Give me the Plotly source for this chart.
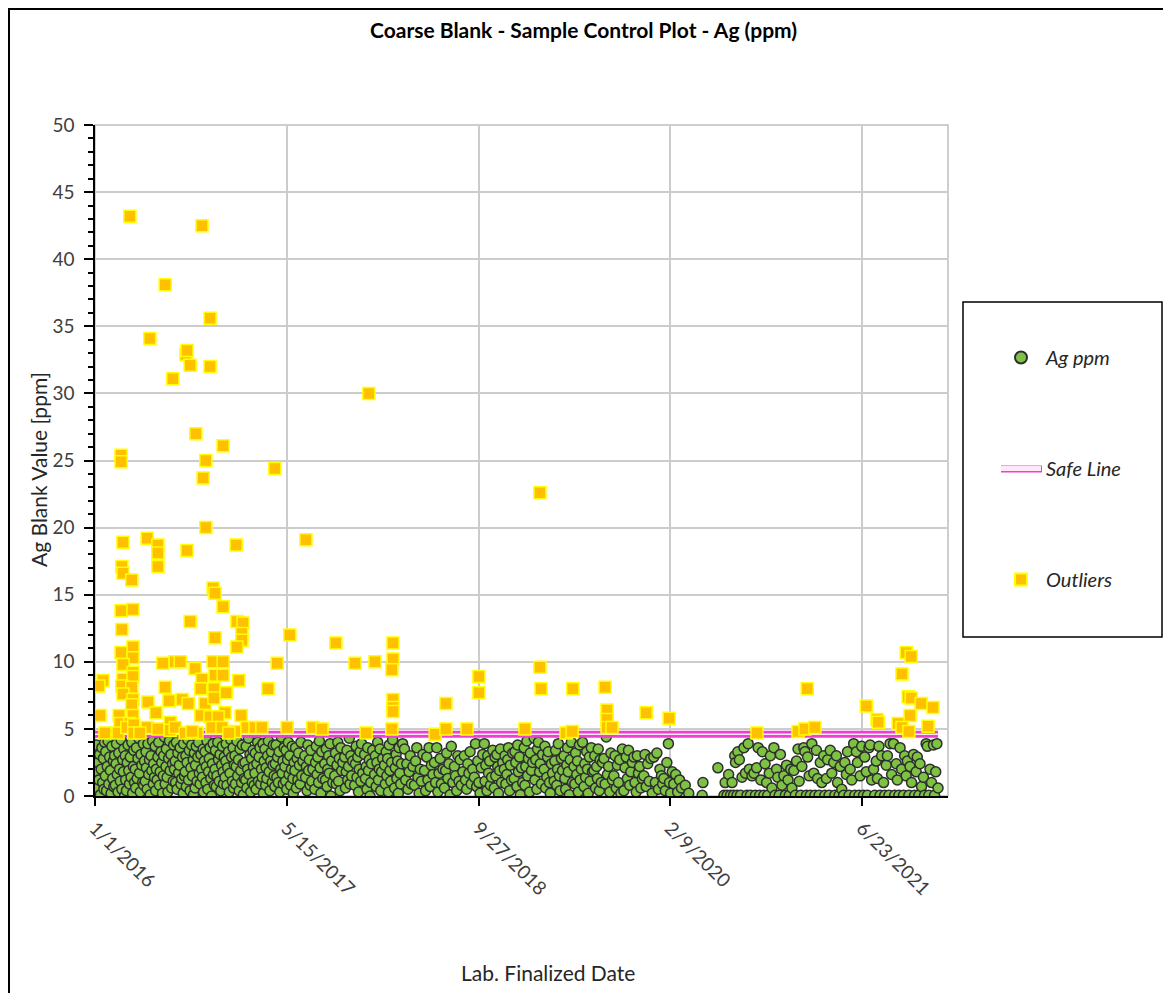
import numpy as np
import pandas as pd
import plotly.graph_objects as go

# ---------------- DATA (dates are Excel serial numbers) ----------------
tick_dates = [42370, 42870, 43370, 43870, 44370]
tick_labels = ["1/1/2016", "5/15/2017", "9/27/2018", "2/9/2020", "6/23/2021"]
x_min, x_max = 42370, 44594

ag_date = [
 42371,42372,42374,42376,42378,42380,42382,42384,42386,42388,42390,42392,42393,42395,
 42397,42398,42400,42402,42404,42406,42408,42410,42412,42414,42416,42418,42419,42421,
 42423,42425,42426,42428,42430,42432,42434,42436,42438,42440,42442,42444,42445,42447,
 42449,42450,42452,42454,42456,42458,42460,42462,42464,42466,42468,42470,42471,42473,
 42475,42476,42478,42480,42482,42484,42486,42488,42490,42492,42494,42496,42497,42499,
 42501,42503,42504,42506,42508,42510,42512,42514,42516,42518,42520,42522,42523,42525,
 42527,42528,42530,42532,42534,42536,42538,42540,42542,42544,42546,42548,42549,42551,
 42553,42555,42556,42558,42560,42562,42564,42566,42568,42570,42572,42574,42575,42577,
 42579,42580,42582,42584,42586,42588,42590,42592,42594,42596,42598,42600,42601,42603,
 42605,42607,42608,42610,42612,42614,42616,42618,42620,42622,42624,42626,42627,42629,
 42631,42632,42634,42636,42638,42640,42642,42644,42646,42648,42650,42652,42653,42655,
 42657,42659,42660,42662,42664,42666,42668,42670,42672,42674,42676,42678,42679,42681,
 42683,42684,42686,42688,42690,42692,42694,42696,42698,42700,42702,42704,42705,42707,
 42709,42711,42712,42714,42716,42718,42720,42722,42724,42726,42728,42730,42731,42733,
 42735,42736,42738,42740,42742,42744,42746,42748,42750,42752,42754,42756,42757,42759,
 42761,42763,42764,42766,42768,42770,42772,42774,42776,42778,42780,42782,42783,42785,
 42787,42788,42790,42792,42794,42796,42798,42800,42802,42804,42806,42808,42809,42811,
 42813,42815,42816,42818,42820,42822,42824,42826,42828,42830,42832,42834,42835,42837,
 42839,42840,42842,42844,42846,42848,42850,42852,42854,42856,42858,42860,42861,42863,
 42865,42867,42868,42870,42872,42874,42876,42878,42880,42882,42884,42886,42887,42889,
 42891,42893,42895,42897,42899,42901,42903,42905,42907,42909,42912,
 42917,42919,42921,42923,42925,42927,42929,42931,42933,42935,42938,
 42943,42945,42947,42949,42951,42953,42955,42957,42959,42961,42964,
 42969,42971,42973,42975,42977,42979,42981,42983,42985,42987,42990,
 42995,42997,42999,43001,43003,43005,43007,43009,43011,43013,43016,
 43021,43023,43025,43027,43029,43031,43033,43035,43037,43039,43042,
 43047,43049,43051,43053,43055,43057,43059,43061,43063,43065,43068,
 43073,43075,43077,43079,43081,43083,43085,43087,43089,43091,43094,
 43099,43101,43103,43105,43107,43109,43111,43113,43115,43117,43120,
 43125,43127,43129,43131,43133,43135,43137,43139,43141,43143,43146,
 43151,43153,43155,43157,43159,43161,43163,43165,43167,43169,43172,
 43177,43180,43183,43186,43189,43192,43195,43199,
 43203,43206,43209,43212,43215,43218,43221,43225,
 43229,43232,43235,43238,43241,43244,43247,43251,
 43255,43258,43261,43264,43267,43270,43273,43277,
 43281,43284,43287,43290,43293,43296,43299,43303,
 43307,43310,43313,43316,43319,43322,43325,43329,
 43333,43336,43339,43342,43345,43348,43351,43355,
 43359,43362,43365,43368,43371,43374,43377,43381,
 43385,43387,43389,43392,43394,43396,43399,43401,43404,43407,
 43411,43413,43415,43418,43420,43422,43425,43427,43430,43433,
 43437,43439,43441,43444,43446,43448,43451,43453,43456,43459,
 43463,43465,43467,43470,43472,43474,43477,43479,43482,43485,
 43489,43491,43493,43496,43498,43500,43503,43505,43508,43511,
 43515,43517,43519,43522,43524,43526,43529,43531,43534,43537,
 43541,43543,43545,43548,43550,43552,43555,43557,43560,43563,
 43567,43569,43571,43574,43576,43578,43581,43583,43586,43589,
 43593,43595,43597,43600,43602,43604,43607,43609,43612,43615,
 43619,43621,43623,43626,43628,43630,43633,43635,43638,43641,
 43645,43647,43649,43652,43654,43656,43659,43661,43664,43667,
 43671,43673,43675,43678,43680,43682,43685,43687,43690,43693,
 43697,43700,43703,43706,43709,43712,43715,43719,
 43723,43726,43729,43732,43735,43738,43741,43745,
 43749,43752,43755,43758,43761,43764,43767,43771,
 43775,43778,43781,43784,43787,43790,43793,43797,
 43801,43804,43807,43811,43815,43819,43823,
 43827,43831,43835,43839,43843,43847,43850,
 43853,43857,43861,43865,43868,43871,43875,
 43879,43884,43889,43894,43899,
 43909,43918,
 43953,43955,43994,
 44010,44013,44018,44022,44027,44031,
 44035,44038,44040,44044,44046,44050,44053,44057,
 44062,44066,44070,44073,44076,44079,44083,
 44088,44092,44095,44099,44103,44106,44110,
 44114,44117,44121,44124,44128,44131,44135,
 44140,44143,44147,44150,44154,44157,44161,
 44166,44170,44173,44177,44180,44184,44187,
 44192,44196,44199,44203,44206,44210,44213,
 44218,44221,44225,44228,44232,44235,44239,
 44244,44247,44251,44254,44258,44261,44265,
 44270,44273,44277,44280,44284,44287,44291,
 44296,44299,44303,44306,44310,44313,44317,
 44322,44325,44329,44332,44336,44339,44343,
 44348,44351,44355,44358,44362,44365,44369,
 44374,44377,44381,44384,44388,44391,44395,
 44400,44403,44407,44410,44414,44417,44421,
 44426,44429,44433,44436,44440,44443,44447,
 44452,44455,44459,44462,44466,44469,44473,
 44478,44481,44485,44488,44492,44495,44499,
 44504,44507,44511,44514,44518,44521,44525,
 44530,44533,44537,44540,44544,44547,44551,
 44556,44559,44562,44565,44568,
]

ag_value = [
 0.1,1.8,3.8,0.6,2.5,1.2,3.1,0.1,2.0,3.6,1.0,2.8,0.5,4.0,
 1.5,3.3,0.4,2.2,4.1,0.9,2.9,1.9,0.2,3.7,1.3,2.6,0.7,3.0,
 0.8,2.4,3.9,1.6,0.3,3.2,2.0,1.1,4.2,0.5,2.7,1.8,3.5,0.0,
 3.0,1.2,0.4,2.5,3.8,1.9,0.9,2.9,1.4,4.0,0.2,2.2,3.4,1.0,
 2.0,0.6,3.6,1.3,2.8,4.3,1.7,0.3,3.1,2.3,1.0,3.9,0.8,2.6,
 1.1,3.3,2.1,0.5,3.9,1.6,2.7,0.1,3.0,1.9,4.1,0.9,2.4,1.4,
 3.7,0.4,2.0,1.2,2.9,4.0,0.8,1.8,3.3,2.5,0.2,1.5,3.0,4.4,
 0.9,2.2,3.5,1.4,0.3,2.8,4.1,1.9,3.1,0.6,2.4,1.1,3.8,2.0,
 2.6,1.0,4.0,0.5,3.2,1.7,2.3,3.6,0.9,1.3,2.9,0.2,3.9,1.5,
 1.8,3.0,0.7,2.5,4.2,1.2,3.4,0.4,2.1,3.8,1.5,2.7,0.1,3.2,
 0.6,2.3,3.7,1.1,2.9,4.0,1.7,0.9,3.1,2.0,1.4,3.5,0.3,2.6,
 3.3,1.0,2.2,4.1,0.5,1.8,2.8,3.6,1.3,0.0,2.4,3.9,1.6,0.8,
 2.0,3.4,0.7,1.5,4.0,2.7,1.1,3.1,0.4,2.3,3.7,1.8,0.9,2.9,
 1.4,2.6,3.9,0.8,2.1,3.3,0.3,1.7,4.2,2.9,1.1,3.6,0.6,2.3,
 3.0,0.9,2.2,4.1,1.5,2.7,0.4,3.5,1.9,1.0,3.8,2.4,0.1,1.3,
 2.5,1.2,3.7,0.6,2.0,4.3,1.6,3.1,0.3,2.8,1.0,3.4,2.2,0.8,
 1.7,3.2,0.5,2.4,4.0,1.1,2.9,3.6,0.9,2.0,1.4,3.9,0.2,2.6,
 3.5,0.8,2.1,1.3,3.0,4.1,1.8,0.4,2.6,3.3,1.0,2.3,3.8,1.5,
 0.7,2.4,3.8,1.4,2.9,1.0,3.3,0.3,2.0,4.4,1.7,2.6,0.9,3.6,
 2.2,1.1,3.4,0.5,2.7,4.0,1.6,3.0,0.8,2.0,3.7,1.3,0.2,2.5,
 1.9,3.6,0.6,2.8,1.2,3.2,2.3,0.9,4.0,1.5,2.6,
 3.0,1.4,2.2,0.4,3.8,1.9,2.7,0.8,3.4,1.1,2.0,
 0.5,2.5,3.7,1.6,2.9,1.0,4.1,2.1,0.2,3.3,1.3,
 2.4,1.2,3.5,0.7,2.0,3.0,1.7,3.9,0.0,2.6,1.0,
 1.5,3.2,0.9,2.3,4.0,1.1,2.8,0.4,3.6,1.9,2.5,
 2.9,0.6,1.8,3.4,1.2,2.2,4.3,0.9,3.0,1.5,2.6,
 0.8,2.4,3.7,1.4,2.9,0.3,2.0,3.3,1.1,3.9,1.7,
 3.1,1.3,2.2,0.5,3.6,1.9,2.7,0.0,1.0,2.4,3.4,
 1.6,3.0,0.7,2.5,4.0,1.2,2.0,3.5,0.4,1.8,2.8,
 2.3,0.9,3.3,1.5,2.8,0.3,3.8,1.9,1.1,2.5,4.2,
 0.6,2.1,3.1,1.3,2.6,0.2,3.6,1.7,0.9,2.4,3.9,
 3.5,1.2,2.4,0.5,1.8,3.0,0.9,2.2,
 0.8,2.6,3.6,1.4,0.2,2.0,1.1,3.1,
 1.9,0.4,2.9,1.2,3.6,0.7,2.3,1.6,
 2.5,1.0,3.6,0.3,1.7,2.8,0.9,2.0,
 0.6,1.9,3.2,1.3,2.4,0.1,3.7,1.0,
 2.2,1.5,0.4,3.0,1.1,2.7,0.8,1.8,
 3.0,1.2,0.5,2.4,1.7,3.3,0.9,2.0,
 1.4,3.9,0.7,2.6,1.0,0.2,2.1,3.1,
 3.9,1.1,2.3,0.4,3.0,1.7,2.6,0.8,1.4,3.4,
 0.6,2.9,1.5,3.1,2.2,0.2,1.9,3.5,1.0,2.5,
 2.0,3.0,0.9,1.6,2.7,3.6,0.4,2.3,1.2,3.2,
 1.3,3.3,2.5,0.7,3.8,1.8,2.9,0.1,2.1,1.0,
 3.6,0.8,2.2,4.1,1.5,2.8,0.3,3.2,1.9,2.5,
 4.3,1.2,2.7,0.5,3.5,4.0,1.8,2.4,0.9,3.1,
 2.0,3.7,0.6,1.4,2.9,3.3,1.0,0.2,2.4,1.7,
 1.1,2.6,3.4,0.8,2.0,3.9,1.5,0.4,2.8,1.9,
 3.0,1.3,0.5,2.3,3.6,1.8,0.1,2.7,4.0,1.0,
 2.2,0.9,3.2,1.6,2.6,0.3,3.8,1.2,2.0,4.0,
 0.7,2.4,1.4,3.3,2.0,0.2,2.9,1.1,3.6,1.8,
 1.9,3.0,0.6,2.2,1.3,3.5,0.4,2.7,1.0,2.5,
 2.8,0.9,4.4,1.6,2.2,0.3,3.2,1.2,
 1.5,3.0,0.6,2.3,1.0,2.7,0.2,3.5,
 0.4,2.1,2.9,1.3,3.4,0.8,1.8,2.5,
 2.9,1.0,0.3,3.0,1.7,2.2,0.6,1.3,
 1.5,3.1,0.7,2.4,1.1,2.8,0.2,
 2.9,1.0,3.2,0.5,2.0,1.5,0.9,
 1.3,0.4,2.5,3.9,1.0,0.2,1.8,
 0.9,1.6,0.3,1.2,0.6,
 0.8,0.2,
 0.05,1.0,2.1,
 0.05,1.0,0.05,1.6,0.05,1.0,
 0.05,3.0,2.5,0.05,3.3,2.7,0.05,1.4,
 3.6,1.7,0.05,3.9,2.0,0.05,1.5,
 1.7,0.05,2.1,3.6,0.05,1.2,3.3,
 0.05,2.4,1.0,0.05,1.7,3.0,0.6,
 3.6,0.05,2.0,1.4,0.05,3.1,0.8,
 1.5,0.05,2.3,1.2,0.05,2.0,0.6,
 1.9,0.05,2.6,3.5,1.1,0.05,2.2,
 3.6,3.3,0.05,2.9,1.5,0.05,3.9,
 1.7,0.05,3.4,1.3,0.05,2.5,1.0,
 3.0,0.05,1.3,2.7,0.05,3.4,1.7,
 2.5,0.05,3.0,1.0,0.05,2.2,0.5,
 0.05,2.5,1.6,3.3,0.05,2.0,1.2,
 3.9,0.05,3.3,2.5,0.05,1.5,3.7,
 0.05,2.9,1.8,0.05,3.6,3.8,1.2,
 2.0,0.05,2.6,1.3,3.7,0.05,3.0,
 1.0,0.05,2.3,3.0,0.05,3.9,1.6,
 3.9,0.05,2.4,1.2,0.05,3.6,2.0,
 0.05,3.0,1.5,2.6,0.05,2.2,1.0,
 3.1,0.05,1.8,2.9,0.05,2.4,0.7,
 1.4,0.05,3.9,3.7,0.05,2.0,1.0,
 3.8,0.05,1.8,3.9,0.6,
]

out_date = [
 42461,42649,42553,42670,42513,42607,42610,42618,42670,42573,
 43084,42633,42704,42659,42438,42438,42839,42652,43530,42659,
 42920,42506,42443,42738,42534,42534,42610,42534,42440,42443,
 42466,42678,42683,42704,42438,42469,42618,42740,42756,42440,
 42753,42753,42683,42878,42998,43147,42740,42469,42438,42469,
 42443,42547,42579,42592,42678,42704,42845,43048,43100,43147,
 43144,42631,42469,43371,43530,44485,44498,44474,42391,42380,
 42443,42469,42649,42683,42704,42745,42440,42466,42553,42646,
 42680,42821,42712,43533,43616,43700,44227,43371,42443,42469,
 42466,42508,42563,42597,42613,42657,42680,43147,43147,43147,
 43285,44490,44498,44524,44555,44381,43705,43705,43705,43718,
 43807,43867,44409,44412,44495,44464,44474,44542,44492,42383,
 42433,42469,42529,42646,42709,42751,42566,42435,42461,42670,
 42691,42506,42534,42566,42579,42430,42453,42605,42636,42675,
 42701,42735,42766,42787,42805,42871,42938,42962,43077,43144,
 43257,43285,43340,43491,43598,43614,44096,44203,44221,44247,
 42471,42471,42396,42487,42623,42719,
]

out_value = [
 43.2,42.5,38.1,35.6,34.1,32.9,33.2,32.1,32.0,31.1,
 30.0,27.0,26.1,25.0,25.4,24.9,24.4,23.7,22.6,20.0,
 19.1,19.2,18.9,18.7,18.7,18.1,18.3,17.1,17.1,16.6,
 16.1,15.5,15.1,14.1,13.8,13.9,13.0,13.0,12.9,12.4,
 12.1,11.6,11.8,12.0,11.4,11.4,11.1,11.1,10.7,10.3,
 9.8,9.9,10.0,10.0,10.0,10.0,9.9,9.9,10.0,10.2,
 9.4,9.5,9.2,8.9,9.6,10.7,10.4,9.1,8.6,8.2,
 8.7,8.9,8.7,9.0,9.0,8.6,8.2,8.1,8.1,8.0,
 8.0,8.0,7.7,8.0,8.0,8.1,8.0,7.7,7.6,7.2,
 6.8,7.0,7.1,7.2,6.9,6.9,7.3,7.2,6.6,6.3,
 6.9,7.4,7.3,6.9,6.6,6.7,6.4,5.7,5.1,5.1,
 6.2,5.8,5.7,5.5,6.0,5.4,5.1,5.2,4.8,6.0,
 6.0,6.0,6.2,6.0,6.2,6.0,5.5,5.4,5.4,5.9,
 5.9,5.1,5.0,4.9,5.1,4.7,5.1,4.7,4.7,5.1,
 5.1,4.8,5.1,5.1,5.1,5.1,5.1,5.0,4.7,5.0,
 4.6,5.0,5.0,5.0,4.7,4.8,4.7,4.8,5.0,5.1,
 5.3,4.7,4.7,4.7,4.8,4.7,
]

safe_date = [42370, 44568]
safe_value = [4.6, 4.6]

# ---------------- helpers ----------------
def to_dt(serials):
    return pd.to_datetime(np.asarray(serials, dtype=float), unit="D", origin="1899-12-30")

OFF = 8                      # page body margin
W, H = 1171 - OFF, 993 - OFF
L, R, T, B = 95, 948, 125, 796   # plot area in screen pixels
def px(x):
    return (x - L) / (R - L)
def py(y):
    return (B - y) / (B - T)

FONT = "Lato, 'Open Sans', sans-serif"
TXT = "#404040"
PINK = "#EE3FD0"
PINK_IN = "#FFE6FA"

fig = go.Figure()

fig.add_trace(go.Scatter(
    x=to_dt(ag_date), y=ag_value, mode="markers", name="Ag ppm",
    legendgroup="a",
    marker=dict(symbol="circle", size=10, color="#7DC243",
                line=dict(color="#2E2E2E", width=1.5)),
))
# double "Safe Line": thick magenta stroke with a light core on top
fig.add_trace(go.Scatter(
    x=to_dt(safe_date), y=safe_value, mode="lines", showlegend=False,
    legendgroup="b", hoverinfo="skip",
    line=dict(color=PINK, width=7),
))
fig.add_trace(go.Scatter(
    x=to_dt(safe_date), y=safe_value, mode="lines", name="Safe Line",
    legendgroup="b",
    line=dict(color=PINK_IN, width=1.5),
))
fig.add_trace(go.Scatter(
    x=to_dt(out_date), y=out_value, mode="markers", name="Outliers",
    legendgroup="c",
    marker=dict(symbol="square", size=12, color="#FFC000",
                line=dict(color="#FFFF00", width=1.5)),
))

fig.update_layout(
    width=W, height=H,
    margin=dict(l=L - OFF, r=W - (R - OFF), t=T - OFF, b=H - (B - OFF), autoexpand=False),
    paper_bgcolor="white", plot_bgcolor="white",
    font=dict(family=FONT, color=TXT),
    showlegend=True,
    legend=dict(x=px(996), y=py(338), xanchor="left", yanchor="top",
                bgcolor="rgba(0,0,0,0)", borderwidth=0,
                tracegroupgap=82, itemsizing="constant", itemwidth=40,
                font=dict(family=FONT, size=20, color="#262626", style="italic")),
    xaxis=dict(
        type="date",
        range=[to_dt([x_min])[0], to_dt([x_max])[0]],
        tickmode="array", tickvals=to_dt(tick_dates), ticktext=tick_labels,
        tickangle=45, tickfont=dict(size=19, color=TXT, family=FONT),
        showgrid=True, gridcolor="#CCCCCC", gridwidth=1.5,
        showline=True, linecolor="#000000", linewidth=1.5,
        ticks="outside", ticklen=8, tickcolor="#000000", tickwidth=1.5,
        zeroline=False, ticklabelstandoff=4,
    ),
    yaxis=dict(
        range=[0, 50], tickmode="linear", tick0=0, dtick=5,
        tickfont=dict(size=19, color=TXT, family=FONT),
        showgrid=True, gridcolor="#CCCCCC", gridwidth=1.5,
        showline=True, linecolor="#000000", linewidth=1.5,
        ticks="outside", ticklen=9, tickcolor="#000000", tickwidth=1.5,
        minor=dict(dtick=1, ticks="outside", ticklen=5, tickcolor="#000000",
                   tickwidth=1.5, showgrid=False),
        zeroline=False, ticklabelstandoff=6,
    ),
    shapes=[
        dict(type="rect", xref="paper", yref="paper", x0=0, x1=1, y0=0, y1=1,
             line=dict(color="#BFBFBF", width=1.5), layer="below"),
        dict(type="rect", xref="paper", yref="paper",
             x0=px(963), x1=px(1162), y0=py(637), y1=py(302),
             line=dict(color="#000000", width=1.5)),
        dict(type="rect", xref="paper", yref="paper",
             x0=px(9), x1=px(1168), y0=py(1010), y1=py(9),
             line=dict(color="#000000", width=2)),
        # magenta body of the "Safe Line" legend swatch (light core comes from the legend)
        dict(type="line", xref="paper", yref="paper",
             x0=px(1001), x1=px(1042), y0=py(469), y1=py(469),
             line=dict(color=PINK, width=7)),
    ],
    annotations=[
        dict(text="<b>Coarse Blank - Sample Control Plot - Ag (ppm)</b>",
             x=px(583), y=py(30), xref="paper", yref="paper",
             xanchor="center", yanchor="middle",
             showarrow=False, font=dict(size=21, color="#000000", family=FONT)),
        dict(text="Ag Blank Value [ppm]", textangle=-90,
             x=px(38), y=py(470), xref="paper", yref="paper",
             xanchor="center", yanchor="middle",
             showarrow=False, font=dict(size=21, color="#262626", family=FONT)),
        dict(text="Lab. Finalized Date",
             x=px(548), y=py(972), xref="paper", yref="paper",
             xanchor="center", yanchor="middle",
             showarrow=False, font=dict(size=21, color="#262626", family=FONT)),
    ],
)

fig.write_html("out.html")
